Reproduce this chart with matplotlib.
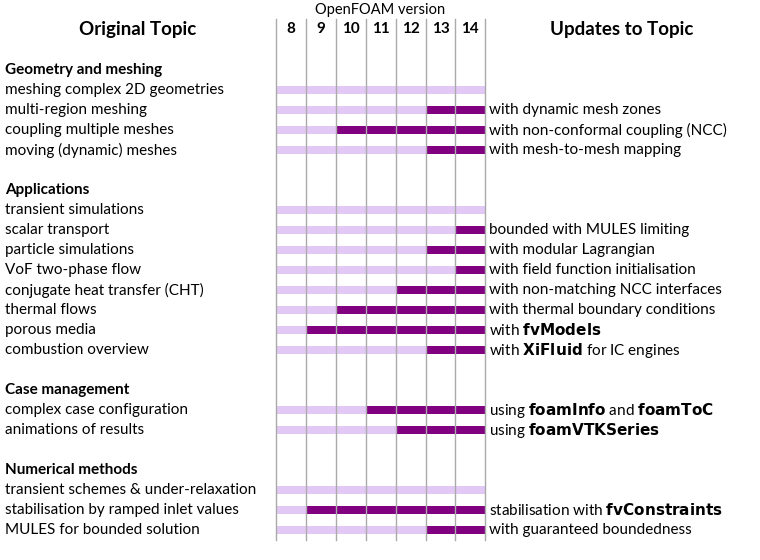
import matplotlib.pyplot as plt

plt.rcParams['font.family'] = ['Lato', 'DejaVu Sans']

versions = [8, 9, 10, 11, 12, 13, 14]

# rows: (topic, dark-start version or None, update text); None topic = section header
sections = ['Geometry and meshing', 'Applications', 'Case management', 'Numerical methods']
topics = [
    ['meshing complex 2D geometries', 'multi-region meshing', 'coupling multiple meshes',
     'moving (dynamic) meshes'],
    ['transient simulations', 'scalar transport', 'particle simulations', 'VoF two-phase flow',
     'conjugate heat transfer (CHT)', 'thermal flows', 'porous media', 'combustion overview'],
    ['complex case configuration', 'animations of results'],
    ['transient schemes & under-relaxation', 'stabilisation by ramped inlet values',
     'MULES for bounded solution'],
]
dark_start = [
    [None, 13, 10, 13],
    [None, 14, 13, 14, 12, 10, 9, 13],
    [11, 12],
    [None, 9, 13],
]
updates = [
    ['', 'with dynamic mesh zones', 'with non-conformal coupling (NCC)',
     'with mesh-to-mesh mapping'],
    ['', 'bounded with MULES limiting', 'with modular Lagrangian',
     'with field function initialisation', 'with non-matching NCC interfaces',
     'with thermal boundary conditions', r'with $\mathtt{\mathbf{fvModels}}$',
     r'with $\mathtt{\mathbf{XiFluid}}$ for IC engines'],
    [r'using $\mathtt{\mathbf{foamInfo}}$ and $\mathtt{\mathbf{foamToC}}$',
     r'using $\mathtt{\mathbf{foamVTKSeries}}$'],
    ['', r'stabilisation with $\mathtt{\mathbf{fvConstraints}}$',
     'with guaranteed boundedness'],
]

LIGHT = '#e2c9f5'
DARK = '#800080'
x0, cw = 276, 29.9


def vx(v):
    return x0 + (v - 8) * cw


fig = plt.figure(figsize=(7.6, 5.6), dpi=100)
ax = fig.add_axes([0, 0, 1, 1])
ax.set_xlim(0, 760)
ax.set_ylim(560, 0)
ax.axis('off')

ax.text(138, 29, 'Original Topic', ha='center', va='center', fontsize=13.5, fontweight='bold')
ax.text(622, 29, 'Updates to Topic', ha='center', va='center', fontsize=13.5, fontweight='bold')
ax.text(380, 10, 'OpenFOAM version', ha='center', va='center', fontsize=10.5)
for v in versions:
    ax.text(vx(v) + cw / 2, 29, str(v), ha='center', va='center', fontsize=11, fontweight='bold')

y = 70
for sec, tl, ds, up in zip(sections, topics, dark_start, updates):
    ax.text(5, y, sec, ha='left', va='center', fontsize=11, fontweight='bold')
    y += 20
    for t, d, u in zip(tl, ds, up):
        ax.text(5, y, t, ha='left', va='center', fontsize=11)
        end = vx(15)
        mid = vx(d) if d is not None else end
        ax.barh(y, mid - x0, left=x0, height=8.5, color=LIGHT, zorder=1)
        if d is not None:
            ax.barh(y, end - mid, left=mid, height=8.5, color=DARK, zorder=1)
        if u:
            ax.text(489, y, u, ha='left', va='center', fontsize=11)
        y += 20
    y += 20

for v in versions + [15]:
    ax.plot([vx(v), vx(v)], [19, 540], color='#aaaaaa', lw=1, zorder=2)

fig.savefig('out.png', dpi=100)
